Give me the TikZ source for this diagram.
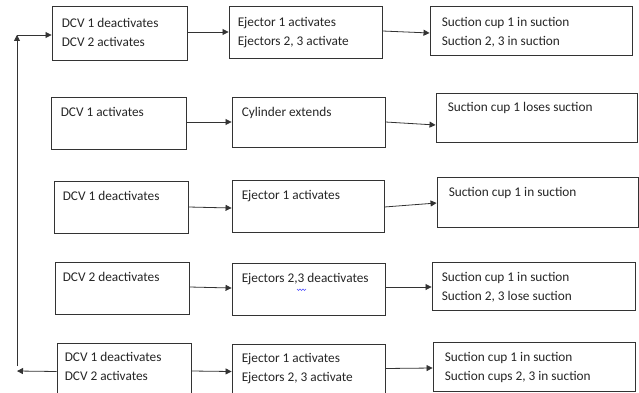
\documentclass[tikz,border=0pt]{standalone}
\usepackage{fontspec}
\setmainfont{Carlito}
\usetikzlibrary{arrows.meta}
\tikzset{
  stagebox/.style={draw=black!80, line width=0.9pt, inner sep=0pt, fill=white},
  stagetxt/.style={inner sep=0pt, align=left, anchor=base west, text=black!85,
    font=\fontsize{13.3}{19}\selectfont},
  flow/.style={draw=black!80, line width=0.8pt, -{Triangle[length=6pt,width=6pt]}},
}
% #7 = distance from the box top to the baseline of the LAST text line
\newcommand\stage[8]{%
  \node[stagebox, minimum width={(#4-#2)*1pt}, minimum height={(#5-#3)*1pt}]
    (#1) at ({(#2+#4)/2},{(#3+#5)/2}) {};
  \node[stagetxt] (#1t) at ([shift={(#6pt,-#7pt)}]#1.north west) {#8};}
\begin{document}
\begin{tikzpicture}[x=1pt,y=-1pt]
\useasboundingbox (0,0) rectangle (639,393);
\fill[white] (0,0) rectangle (639,393);
\clip (0,0) rectangle (639,393);
% row 1
\stage{a1}{52}{6}{187}{60}{10}{41}{DCV 1 deactivates\\DCV 2 activates}
\stage{b1}{229}{6}{382}{58}{9}{40}{Ejector 1 activates\\Ejectors 2, 3 activate}
\stage{c1}{430}{6}{632}{55}{12}{40}{Suction cup 1 in suction\\Suction 2, 3 in suction}
% row 2
\stage{a2}{51}{97}{186}{149}{10}{20}{DCV 1 activates}
\stage{b2}{232}{97}{385}{147}{10}{20}{Cylinder extends}
\stage{c2}{436}{93}{637}{142}{12}{19}{Suction cup 1 loses suction}
% row 3
\stage{a3}{54}{181}{188}{233}{9}{20}{DCV 1 deactivates}
\stage{b3}{232}{180}{384}{232}{10}{20}{Ejector 1 activates}
\stage{c3}{437}{177}{638}{227}{12}{20}{Suction cup 1 in suction}
% row 4
\stage{a4}{55}{262}{189}{314}{8}{20}{DCV 2 deactivates}
\stage{b4}{232}{263}{385}{315}{10}{20}{Ejectors 2,3 deactivates}
\stage{c4}{432}{262}{635}{310}{10}{39}{Suction cup 1 in suction\\Suction 2, 3 lose suction}
% row 5
\stage{a5}{57}{343}{191}{401}{8}{38}{DCV 1 deactivates\\DCV 2 activates}
\stage{b5}{232}{344}{385}{401}{10}{38}{Ejector 1 activates\\Ejectors 2, 3 activate}
\stage{c5}{433}{342}{635}{391}{12}{39}{Suction cup 1 in suction\\Suction cups 2, 3 in suction}
% spell-check squiggle
\draw[blue!70, line width=0.4pt] (297,289) -- (298.5,290.5) -- (300,289) -- (301.5,290.5) -- (303,289) -- (304.5,290.5) -- (306,289);
% connectors
\draw[flow] ([yshift=1pt]a1.east) -- ([yshift=0pt]b1.west);
\draw[flow] ([yshift=1pt]b1.east) -- ([yshift=-2.5pt]c1.west);
\draw[flow] ([yshift=1pt]a2.east) -- (b2.west);
\draw[flow] (b2.east) -- ([yshift=-7.5pt]c2.west);
\draw[flow] (a3.east) -- ([yshift=-2pt]b3.west);
\draw[flow] ([yshift=-1pt]b3.east) -- ([yshift=-1pt]c3.west);
\draw[flow] ([yshift=1pt]a4.east) -- ([yshift=1pt]b4.west);
\draw[flow] ([yshift=2pt]b4.east) -- ([yshift=-1pt]c4.west);
\draw[flow] ([yshift=1pt]a5.east) -- ([yshift=1pt]b5.west);
\draw[flow] ([yshift=4pt]b5.east) -- ([yshift=-1.5pt]c5.west);
% return loop
\coordinate (loopbot) at (17,366);
\coordinate (looptop) at (17,35);
\coordinate (loopend) at (17,371);
\draw[flow] (loopbot) -- (looptop);
\draw[flow] (looptop) -- ([yshift=-2pt]a1.west);
\draw[flow] ([yshift=0.5pt]a5.west) -- (loopend);
\end{tikzpicture}
\end{document}
